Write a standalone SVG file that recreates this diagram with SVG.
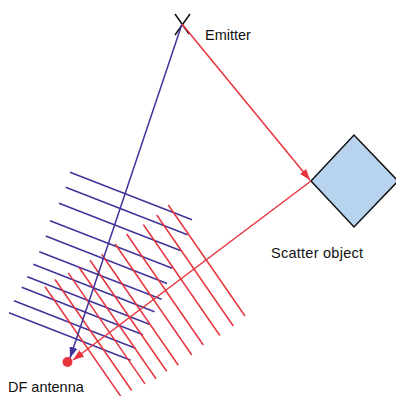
<svg xmlns="http://www.w3.org/2000/svg" width="396" height="396" viewBox="0 0 396 396">
<style>
.b{stroke:#40339a;stroke-width:1.5;fill:none}
.r{stroke:#e8343c;stroke-width:1.5;fill:none}
.t{font-family:"Liberation Sans",Arial,sans-serif;font-size:14.5px;fill:#111}
</style>
<defs>
<marker id="ab" markerUnits="userSpaceOnUse" markerWidth="11" markerHeight="8" refX="11" refY="4" orient="auto"><path d="M0,0 L11,4 L0,8 z" fill="#40339a"/></marker>
<marker id="ar" markerUnits="userSpaceOnUse" markerWidth="11" markerHeight="8" refX="11" refY="4" orient="auto"><path d="M0,0 L11,4 L0,8 z" fill="#e8343c"/></marker>
</defs>
<rect width="396" height="396" fill="#fff"/>
<g id="wavefronts-direct">
<line class="b" x1="70" y1="172.3" x2="192" y2="219.8"/>
<line class="b" x1="65.7" y1="187.3" x2="187.5" y2="234.8"/>
<line class="b" x1="59" y1="203.3" x2="181" y2="250.8"/>
<line class="b" x1="50" y1="220.7" x2="172.3" y2="268.2"/>
<line class="b" x1="45.7" y1="236" x2="167" y2="283.5"/>
<line class="b" x1="39.3" y1="251.7" x2="161.5" y2="299.2"/>
<line class="b" x1="33.3" y1="264.3" x2="154.5" y2="311.8"/>
<line class="b" x1="27.3" y1="276.7" x2="149.3" y2="324.2"/>
<line class="b" x1="21.7" y1="287.3" x2="143" y2="334.8"/>
<line class="b" x1="14" y1="300.7" x2="135.5" y2="348.2"/>
<line class="b" x1="9" y1="312.7" x2="130.7" y2="360.2"/>
</g>
<g id="wavefronts-scattered">
<line class="r" x1="168.3" y1="205" x2="245" y2="316"/>
<line class="r" x1="156.7" y1="215" x2="233.3" y2="326"/>
<line class="r" x1="143.3" y1="224.5" x2="219.8" y2="335.5"/>
<line class="r" x1="126.7" y1="234" x2="203.3" y2="345"/>
<line class="r" x1="115.2" y1="244" x2="191.8" y2="355"/>
<line class="r" x1="101.7" y1="254.3" x2="178.3" y2="365.3"/>
<line class="r" x1="90" y1="260.2" x2="166.7" y2="371.2"/>
<line class="r" x1="79.3" y1="267.7" x2="156" y2="378.7"/>
<line class="r" x1="68.3" y1="272.9" x2="145" y2="383.9"/>
<line class="r" x1="55" y1="279.5" x2="131.7" y2="390.5"/>
<line class="r" x1="45" y1="286.7" x2="121.7" y2="397.7"/>
</g>
<g id="emitter">
<path d="M175,14 L189,34 M190,14 L175,35" stroke="#111" stroke-width="1.5" fill="none"/>
<text class="t" x="205" y="39.5">Emitter</text>
</g>
<g id="scatter-object">
<polygon points="311,181 354,135 398,181 354,227" fill="#b8d3ee" stroke="#111" stroke-width="1.5"/>
<text class="t" x="271" y="258" textLength="92" lengthAdjust="spacing">Scatter object</text>
</g>
<g id="df-antenna">
<circle cx="67.5" cy="362" r="5" fill="#e8343c"/>
<text class="t" x="8" y="392">DF antenna</text>
</g>
<g id="connectors">
<line class="b" x1="182" y1="24" x2="70" y2="358" marker-end="url(#ab)"/>
<line class="r" x1="182" y1="24" x2="310" y2="180" marker-end="url(#ar)"/>
<line class="r" x1="311" y1="181" x2="73" y2="360" marker-end="url(#ar)"/>
</g>
</svg>
